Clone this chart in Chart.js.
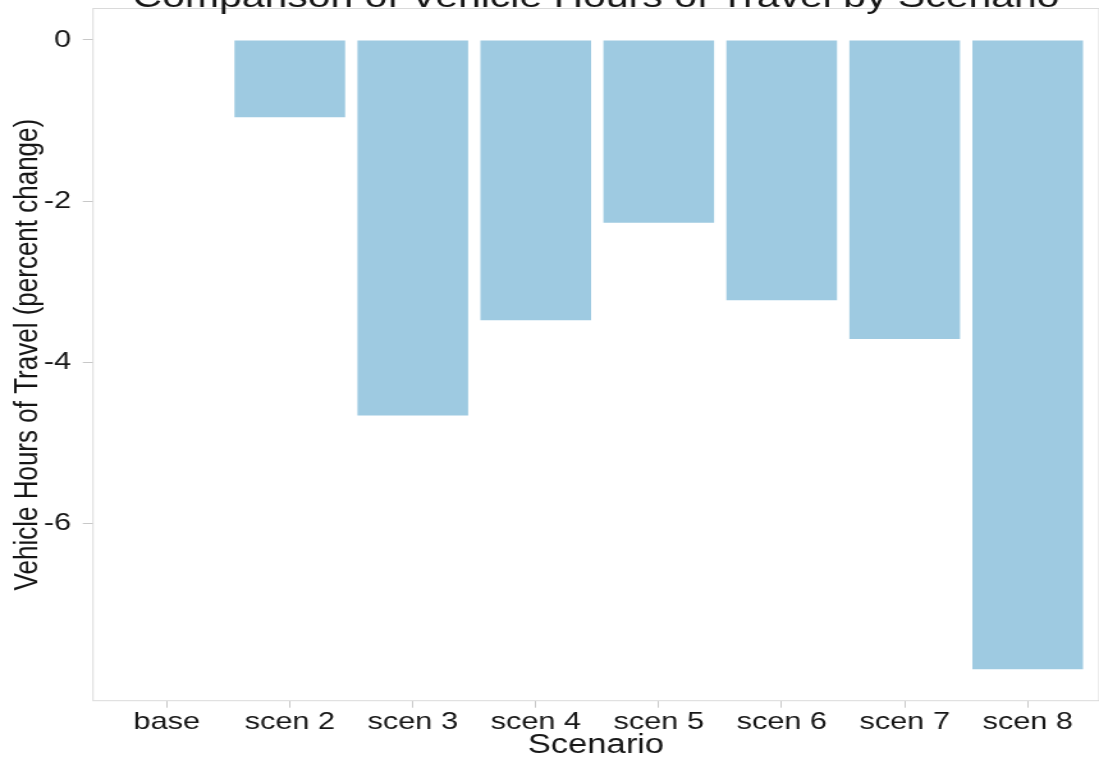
<!DOCTYPE html>
<html>
<head>
<meta charset="utf-8">
<script src="https://cdn.jsdelivr.net/npm/chart.js@4/dist/chart.umd.min.js"></script>
<style>
  html, body { margin: 0; padding: 0; background: #fff; }
  #wrap { width: 1099px; height: 765px; overflow: hidden; }
  /* the reference is stretched sideways, so draw narrow and scale up */
  #chart { transform: scaleX(1.2794); transform-origin: 0 0; }
</style>
</head>
<body>
<div id="wrap"><canvas id="chart" width="859" height="765"></canvas></div>
<script>
const chartTitle = 'Comparison of Vehicle Hours of Travel by Scenario';
const scenarios = ['base', 'scen 2', 'scen 3', 'scen 4', 'scen 5', 'scen 6', 'scen 7', 'scen 8'];
const vhtChange = [0, -0.96, -4.66, -3.48, -2.27, -3.23, -3.71, -7.81];
const yTicks = [0, -2, -4, -6];

const textColor = '#161616';
const lineGrey = '#dadada';
const tickGrey = '#c8c8c8';

// panel border + cut-off title
const frame = {
    id: 'frame',
    afterDraw(chart) {
        const { ctx, chartArea: a } = chart;
        ctx.save();
        ctx.strokeStyle = lineGrey;
        ctx.lineWidth = 1;
        ctx.strokeRect(a.left, a.top, a.right - a.left, a.bottom - a.top);
        ctx.fillStyle = textColor;
        ctx.font = '32px "Liberation Sans", Arial, sans-serif';
        ctx.textAlign = 'center';
        ctx.textBaseline = 'alphabetic';
        ctx.fillText(chartTitle, (a.left + a.right) / 2, 7);
        ctx.restore();
    }
};

const noPad = s => { s.paddingTop = 0; s.paddingBottom = 0; s.paddingLeft = 0; s.paddingRight = 0; };

const ctx = document.getElementById('chart').getContext('2d');
new Chart(ctx, {
    type: 'bar',
    data: {
        datasets: [{
            data: vhtChange.map((v, i) => ({ x: i, y: v })),
            backgroundColor: '#9ecae1',
            borderWidth: 0,
            barPercentage: 0.9,
            categoryPercentage: 1
        }]
    },
    options: {
        responsive: false,
        animation: false,
        devicePixelRatio: 1,
        layout: { padding: { top: 8.5, right: 0, left: 0, bottom: 0 } },
        plugins: { legend: { display: false }, tooltip: { enabled: false } },
        scales: {
            x: {
                type: 'linear',
                offset: false,
                min: -0.6,
                max: 7.58,
                afterBuildTicks: s => { s.ticks = scenarios.map((_, i) => ({ value: i })); },
                afterFit: s => { s.height = 64.3; noPad(s); },
                border: { display: false },
                grid: { offset: false, drawOnChartArea: false, drawTicks: true, tickLength: 7, tickColor: tickGrey, tickWidth: 1 },
                ticks: {
                    autoSkip: false, maxRotation: 0, padding: 3,
                    color: textColor,
                    font: { family: '"Liberation Sans", Arial, sans-serif', size: 24, lineHeight: 1 },
                    callback: v => scenarios[v]
                },
                title: {
                    display: true, text: 'Scenario', color: textColor,
                    font: { family: '"Liberation Sans", Arial, sans-serif', size: 27, lineHeight: 1.2 },
                    padding: { top: 0, bottom: 3 }
                }
            },
            y: {
                min: -8.2,
                max: 0.39,
                afterBuildTicks: s => { s.ticks = yTicks.map(v => ({ value: v })); },
                afterFit: s => { s.width = 72.7; noPad(s); },
                border: { display: false },
                grid: { drawOnChartArea: false, drawTicks: true, tickLength: 8, tickColor: tickGrey, tickWidth: 1 },
                ticks: {
                    padding: 9, color: textColor,
                    font: { family: '"Liberation Sans", Arial, sans-serif', size: 24 }
                },
                title: {
                    display: true, text: 'Vehicle Hours of Travel (percent change)', color: textColor,
                    font: { family: '"Liberation Sans", Arial, sans-serif', size: 26, lineHeight: 1.2 },
                    padding: { top: 6, bottom: 0 }
                }
            }
        }
    },
    plugins: [frame]
});
</script>
</body>
</html>
